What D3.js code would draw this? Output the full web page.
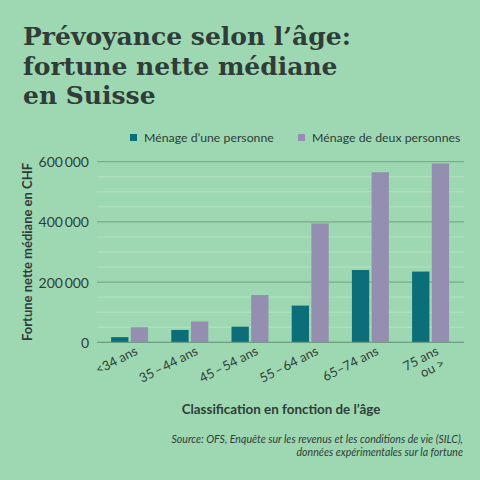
<!DOCTYPE html>
<html><head><meta charset="utf-8">
<script src="https://cdn.jsdelivr.net/npm/d3@7"></script>
<style>
html,body{margin:0;padding:0;background:#9ed8b3;}
svg{display:block;}
</style></head>
<body>
<script>
const categories = ["<34 ans", "35\u2009\u2013\u200944 ans", "45\u2009\u2013\u200954 ans", "55\u2009\u2013\u200964 ans", "65\u201374 ans", "75 ans|ou >"];
const seriesNames = ["Ménage d\u2019une personne", "Ménage de deux personnes"];
const onePerson = [17000, 41000, 52000, 122000, 240000, 235000];
const twoPersons = [50000, 69000, 157000, 395000, 565000, 594000];
const yTicks = [0, 200000, 400000, 600000];
const colors = ["#0b6e78", "#948fb0"];

const W = 480, H = 480;
const bg = "#9ed8b3", ink = "#2f3d38";
const svg = d3.select("body").append("svg").attr("width", W).attr("height", H);
svg.append("rect").attr("width", W).attr("height", H).attr("fill", bg);

// Title (one text element, three lines)
const title = ["Prévoyance selon l\u2019âge:", "fortune nette médiane", "en Suisse"];
svg.append("text")
  .attr("x", 23).attr("y", 45)
  .attr("font-family", "'DejaVu Serif', serif")
  .attr("font-weight", "bold").attr("font-size", 25).attr("fill", ink)
  .selectAll("tspan").data(title).join("tspan")
  .attr("x", 23).attr("dy", (d, i) => i === 0 ? 0 : 29.5)
  .text(d => d);

const x0 = d3.scaleBand().domain(categories).range([99.5, 460.7]).padding(0);
const x1 = d3.scaleBand().domain(seriesNames).range([11.6, 48.6]).paddingInner(0.12);
const y = d3.scaleLinear().domain([0, 600000]).range([342.3, 161.7]);

const fmt = d3.formatLocale({decimal: ",", thousands: "\u2009", grouping: [3], currency: ["", " CHF"]}).format(",d");

// gridlines
const grid = svg.append("g");
grid.selectAll("line").data(d3.range(0, 600001, 50000)).join("line")
  .attr("x1", 97).attr("x2", 464)
  .attr("y1", d => y(d)).attr("y2", d => y(d))
  .attr("stroke", d => d % 200000 === 0 ? "#6f9f82" : "#b3e2c4")
  .attr("stroke-width", 1);

// y axis
const yAxis = svg.append("g").attr("transform", "translate(89,0)")
  .call(d3.axisLeft(y).tickValues(yTicks).tickSize(0).tickPadding(0).tickFormat(fmt));
yAxis.select(".domain").remove();
yAxis.selectAll("text").attr("font-family", "Lato, 'Noto Sans', sans-serif").attr("font-size", 14).attr("fill", ink).attr("dy", "0.35em");

// bars
const data = categories.map((c, i) => ({cat: c, vals: [onePerson[i], twoPersons[i]]}));
const groups = svg.append("g").selectAll("g").data(data).join("g")
  .attr("transform", d => `translate(${x0(d.cat)},0)`);
groups.selectAll("rect").data(d => d.vals.map((v, j) => ({k: seriesNames[j], v, j}))).join("rect")
  .attr("x", d => x1(d.k)).attr("width", x1.bandwidth())
  .attr("y", d => y(d.v)).attr("height", d => y(0) - y(d.v))
  .attr("fill", d => colors[d.j]);

// baseline
svg.append("line").attr("x1", 97).attr("x2", 464).attr("y1", y(0)).attr("y2", y(0)).attr("stroke", "#6f9f82");

// x axis labels
const xl = svg.append("g").selectAll("text").data(categories).join("text")
  .attr("transform", d => `translate(${x0(d) + x0.bandwidth() / 2 + 9},${354}) rotate(-27)`)
  .attr("text-anchor", "end")
  .attr("font-family", "Lato, 'Noto Sans', sans-serif").attr("font-size", 13).attr("fill", ink);
xl.each(function(d) {
  const parts = d.split("|");
  d3.select(this).selectAll("tspan").data(parts).join("tspan")
    .attr("x", 0).attr("dy", (p, i) => i === 0 ? 0 : "1.05em").text(p => p);
});

// y title
svg.append("text").attr("transform", "translate(32,252) rotate(-90)")
  .attr("text-anchor", "middle").attr("font-family", "Lato, 'Noto Sans', sans-serif")
  .attr("font-weight", "bold").attr("font-size", 13).attr("fill", ink)
  .text("Fortune nette médiane en CHF");

// x title
svg.append("text").attr("x", 281).attr("y", 414)
  .attr("text-anchor", "middle").attr("font-family", "Lato, 'Noto Sans', sans-serif")
  .attr("font-weight", "bold").attr("font-size", 13.4).attr("fill", ink)
  .text("Classification en fonction de l\u2019âge");

// legend
const legX = [130, 298];
const leg = svg.append("g").selectAll("g").data(seriesNames).join("g")
  .attr("transform", (d, i) => `translate(${legX[i]},134)`);
leg.append("rect").attr("width", 7).attr("height", 7).attr("fill", (d, i) => colors[i]);
leg.append("text").attr("x", 14).attr("y", 4).attr("dy", "0.35em")
  .attr("font-family", "Lato, 'Noto Sans', sans-serif").attr("font-size", 12.3).attr("fill", ink)
  .text(d => d);

// source
const src = ["Source:  OFS, Enquête sur les revenus et les conditions de vie (SILC),", "données expérimentales sur la fortune"];
svg.append("g").selectAll("text").data(src).join("text")
  .attr("x", 463).attr("y", (d, i) => 443 + i * 13)
  .attr("text-anchor", "end").attr("font-family", "Lato, 'Noto Sans', sans-serif")
  .attr("font-style", "italic").attr("font-size", 10.6).attr("fill", ink)
  .text(d => d);
</script>
</body></html>
